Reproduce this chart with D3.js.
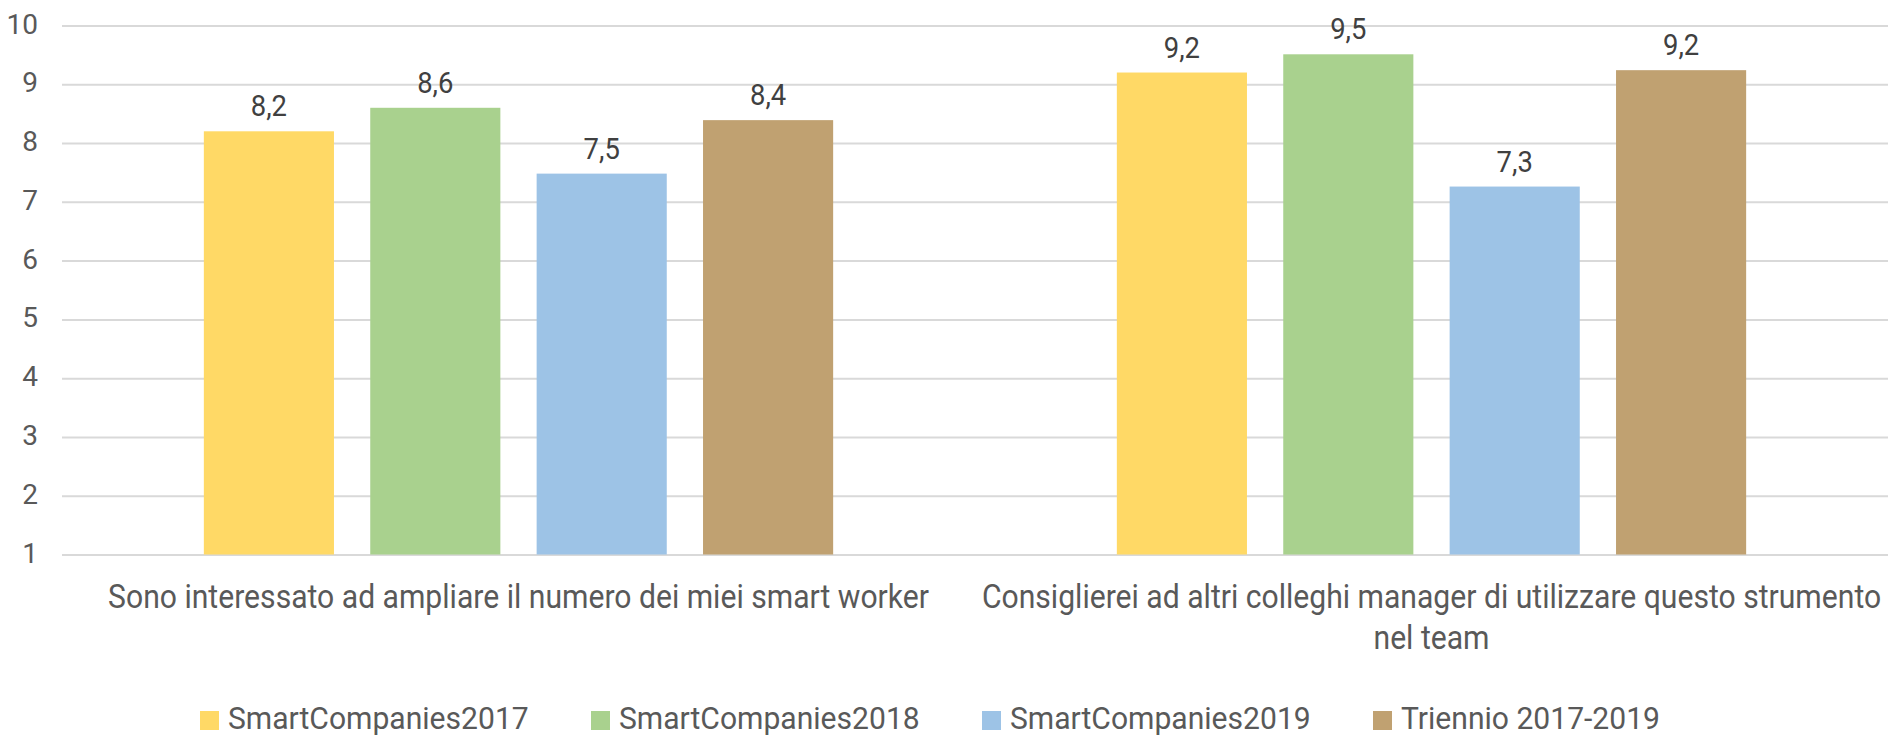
<!DOCTYPE html>
<html>
<head>
<meta charset="utf-8">
<script src="https://cdn.jsdelivr.net/npm/d3@7/dist/d3.min.js"></script>
<style>
body { margin: 0; background: #fff; }
text { font-family: Roboto, "Noto Sans", sans-serif; }
</style>
</head>
<body>
<div id="chart"></div>
<script>
// Data
var categories = [
    'Sono interessato ad ampliare il numero dei miei smart worker',
    'Consiglierei ad altri colleghi manager di utilizzare questo strumento\nnel team'
];
var seriesNames = ['SmartCompanies2017', 'SmartCompanies2018', 'SmartCompanies2019', 'Triennio 2017-2019'];
var values2017 = [8.2, 9.2];
var values2018 = [8.6, 9.51];
var values2019 = [7.48, 7.26];
var valuesTriennio = [8.39, 9.24];
var yTicks = [1, 2, 3, 4, 5, 6, 7, 8, 9, 10];

var colors = ['#FFD966', '#A9D18E', '#9DC3E6', '#C0A171'];
var seriesValues = [values2017, values2018, values2019, valuesTriennio];

var width = 1888, height = 737;
var plot = { left: 62, right: 1888, top: 25.5, bottom: 554.5 };

var svg = d3.select('#chart')
    .append('svg')
    .attr('width', width)
    .attr('height', height);

// Scales
var x0 = d3.scaleBand()
    .domain(categories)
    .range([plot.left, plot.right])
    .paddingInner(0.271)
    .paddingOuter(0.1355);

var x1 = d3.scaleBand()
    .domain(seriesNames)
    .range([0, x0.bandwidth()])
    .paddingInner(0.218)
    .paddingOuter(0.109);

var y = d3.scaleLinear()
    .domain([1, 10])
    .range([plot.bottom, plot.top]);

var color = d3.scaleOrdinal().domain(seriesNames).range(colors);
var fmt = d3.formatLocale({ decimal: ',', thousands: '.', grouping: [3], currency: ['', '€'] }).format('.1f');

// Gridlines + y labels
var yAxis = svg.append('g')
    .attr('class', 'y axis')
    .attr('transform', 'translate(' + plot.left + ',0)')
    .call(d3.axisLeft(y)
        .tickValues(yTicks)
        .tickSize(-(plot.right - plot.left))
        .tickPadding(24)
        .tickFormat(d3.format('d')));

yAxis.select('.domain').remove();
yAxis.selectAll('line')
    .attr('stroke', '#d9d9d9')
    .attr('stroke-width', 2);
yAxis.selectAll('text')
    .attr('dy', '0.27em')
    .attr('fill', '#595959')
    .style('font-size', '28px');

// Bars
var rows = categories.map(function(c, i) {
    return seriesNames.map(function(s, j) {
        return { category: c, series: s, value: seriesValues[j][i] };
    });
});

var groups = svg.selectAll('g.group')
    .data(rows)
    .enter().append('g')
    .attr('class', 'group')
    .attr('transform', function(d, i) { return 'translate(' + x0(categories[i]) + ',0)'; });

groups.selectAll('rect')
    .data(function(d) { return d; })
    .enter().append('rect')
    .attr('x', function(d) { return x1(d.series); })
    .attr('y', function(d) { return y(d.value); })
    .attr('width', x1.bandwidth())
    .attr('height', function(d) { return y(1) - y(d.value); })
    .attr('fill', function(d) { return color(d.series); });

// Value labels (slightly condensed like the original font)
groups.selectAll('g.vlabel')
    .data(function(d) { return d; })
    .enter().append('g')
    .attr('class', 'vlabel')
    .attr('transform', function(d) {
        return 'translate(' + (x1(d.series) + x1.bandwidth() / 2) + ',' + (y(d.value) - 15) + ') scale(0.93,1)';
    })
    .append('text')
    .attr('text-anchor', 'middle')
    .attr('fill', '#404040')
    .style('font-size', '29.5px')
    .text(function(d) { return fmt(d.value); });

// Category labels
var catLabels = svg.selectAll('g.cat')
    .data(categories)
    .enter().append('g')
    .attr('class', 'cat')
    .attr('transform', function(d) {
        return 'translate(' + (x0(d) + x0.bandwidth() / 2) + ',607.5) scale(0.886,1)';
    })
    .append('text')
    .attr('text-anchor', 'middle')
    .attr('fill', '#595959')
    .style('font-size', '34px');

catLabels.selectAll('tspan')
    .data(function(d) { return d.split('\n'); })
    .enter().append('tspan')
    .attr('x', 0)
    .attr('dy', function(d, i) { return i === 0 ? 0 : 41.6; })
    .text(function(d) { return d; });

// Legend
var legend = svg.selectAll('g.legend')
    .data(seriesNames)
    .enter().append('g')
    .attr('class', 'legend')
    .attr('transform', function(d, i) { return 'translate(' + (200 + i * 391) + ',711)'; });

legend.append('rect')
    .attr('width', 19)
    .attr('height', 19)
    .attr('fill', function(d) { return color(d); });

legend.append('g')
    .attr('transform', 'translate(28,18) scale(0.94,1)')
    .append('text')
    .attr('fill', '#595959')
    .style('font-size', '32px')
    .text(function(d) { return d; });
</script>
</body>
</html>
